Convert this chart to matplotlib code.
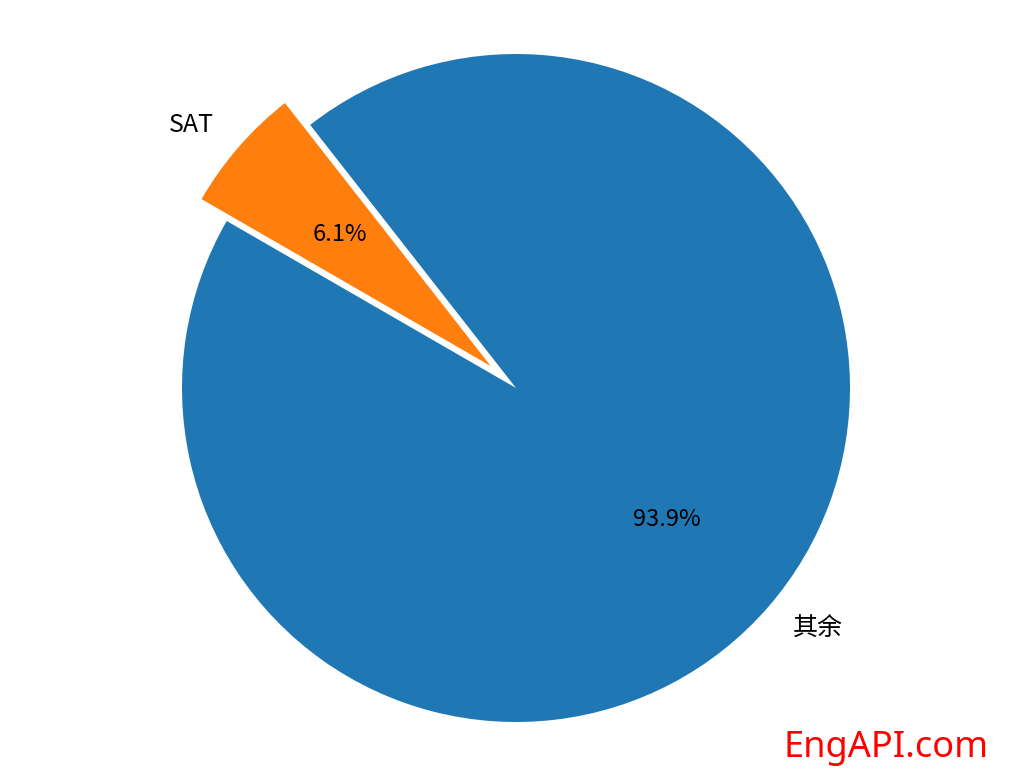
import matplotlib
matplotlib.use("Agg")
import matplotlib.pyplot as plt

labels = ["其余", "SAT"]
values = [93.9, 6.1]
explode = [0, 0.1]
colors = ["#1f77b4", "#ff7f0e"]

plt.rcParams['font.family'] = ['Noto Sans CJK SC', 'DejaVu Sans']

fig = plt.figure(figsize=(10.31, 7.79), dpi=100)
ax = fig.add_axes([0, 0, 1, 1])
wedges, texts, autotexts = ax.pie(values, labels=labels, explode=explode, colors=colors,
                                  autopct='%1.1f%%', startangle=150,
                                  textprops={'fontsize': 18})
for t in autotexts:
    t.set_fontsize(17)
R = 334.0
ax.set_xlim(-516 / R, 515 / R)
ax.set_ylim(-391 / R, 388 / R)
ax.axis('off')
fig.text(0.959, 0.028, "EngAPI.com", color="red", fontsize=26,
         family="Noto Sans", ha="right", va="baseline")
fig.savefig("out.png", dpi=100)
